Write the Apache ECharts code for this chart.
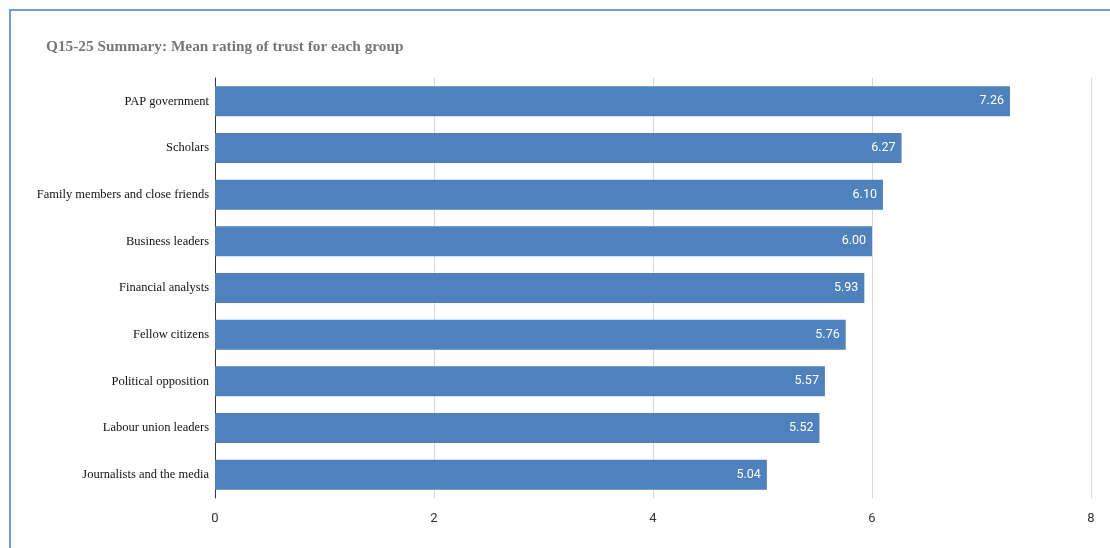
<!DOCTYPE html>
<html><head><meta charset="utf-8">
<script src="https://cdn.jsdelivr.net/npm/echarts@6/dist/echarts.min.js"></script>
<style>
html,body{margin:0;padding:0;background:#fff;}
#frame{position:absolute;left:9px;top:9px;width:1101px;height:539px;border-left:2px solid #6a9fd8;border-top:2px solid #6a9fd8;box-sizing:border-box;}
#c{position:absolute;left:0;top:0;width:1110px;height:548px;}
</style></head>
<body>
<div id="frame"></div>
<div id="c"></div>
<script>
const categories = ["PAP government","Scholars","Family members and close friends","Business leaders","Financial analysts","Fellow citizens","Political opposition","Labour union leaders","Journalists and the media"];
const values = [7.26,6.27,6.10,6.00,5.93,5.76,5.57,5.52,5.04];
const title = "Q15-25 Summary: Mean rating of trust for each group";

const chart = echarts.init(document.getElementById('c'));
chart.setOption({
  animation:false,
  title:{text:title,left:41,top:35,textStyle:{fontFamily:'Liberation Serif',fontWeight:'bold',fontSize:15.3,color:'#777'}},
  grid:{left:215,right:19,top:78,bottom:50},
  xAxis:{type:'value',min:0,max:8,interval:2,
    axisLine:{show:false},axisTick:{show:false},
    splitLine:{lineStyle:{color:'#d9d9d9'}},
    axisLabel:{color:'#333',fontFamily:'Roboto',fontSize:13,margin:14}},
  yAxis:{type:'category',data:categories,inverse:true,
    axisLine:{show:true,lineStyle:{color:'#333'}},axisTick:{show:false},
    axisLabel:{color:'#111',fontFamily:'Liberation Serif',fontSize:12.5,margin:6}},
  series:[{type:'bar',data:values,barWidth:30,
    itemStyle:{color:'#4f81bd'},
    label:{show:true,position:'insideRight',color:'#fff',fontFamily:'Roboto',fontSize:12.5,offset:[-1,0],
      formatter:p=>p.value.toFixed(2)}}]
});
</script>
</body></html>
